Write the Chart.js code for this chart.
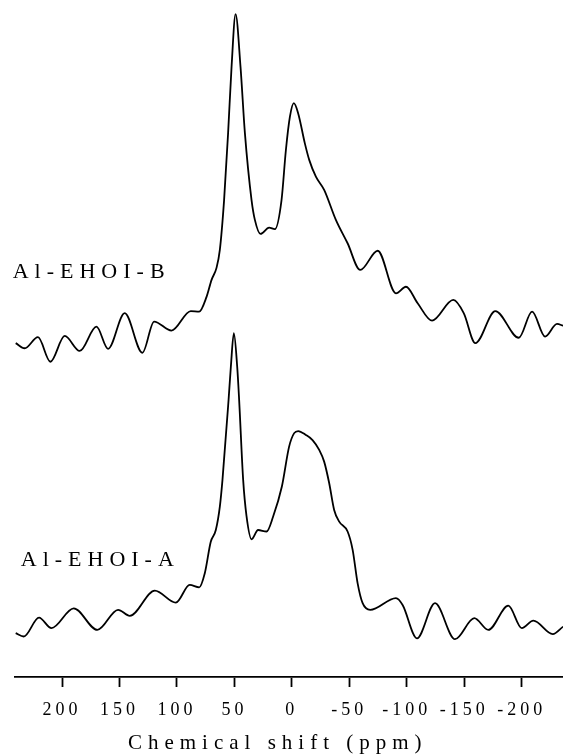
<!DOCTYPE html>
<html>
<head>
<meta charset="utf-8">
<script src="https://cdn.jsdelivr.net/npm/chart.js@4"></script>
<style>
    html, body { margin: 0; padding: 0; background: #fff; }
    canvas { display: block; }
</style>
</head>
<body>
<canvas id="nmr-chart" width="563" height="755"></canvas>
<script>
// 27Al MAS NMR spectra

// Al-EHOI-B (upper trace): chemical shift (ppm) and intensity (a.u.)
const ppmB = [240.4, 232.6, 221.0, 210.2, 197.7, 184.7, 170.1, 160.0, 145.5, 130.1,
    119.9, 104.8, 88.0, 80.7, 74.2, 69.9, 65.6, 62.7, 59.0, 55.5,
    52.5, 49.0, 44.7, 40.9, 35.1, 32.2, 27.3, 19.8, 14.8, 9.0,
    5.2, 1.7, -1.7, -5.5, -11.3, -15.1, -20.9, -28.1, -38.3, -48.5,
    -59.5, -74.7, -90.6, -99.3, -109.5, -122.0, -140.5, -149.6, -159.7, -177.1,
    -197.5, -209.1, -220.4, -230.8, -236.1];
const intB = [0.6, -1.1, 2.6, -5.6, 3.0, -2.0, 6.1, -1.3, 10.6, -2.6,
    7.8, 4.8, 11.3, 11.1, 16.1, 21.7, 25.7, 31.7, 48.3, 70.7,
    92.7, 110.3, 92.7, 70.7, 48.3, 41.7, 37.0, 39.1, 38.6, 48.3,
    65.0, 76.1, 80.6, 77.2, 67.2, 61.7, 56.1, 51.7, 41.7, 33.9,
    25.0, 31.4, 17.2, 19.4, 13.9, 8.1, 15.0, 10.6, 0.6, 11.3,
    2.4, 11.1, 2.8, 7.0, 6.4];

// Al-EHOI-A (lower trace)
const ppmA = [240.4, 233.4, 220.1, 209.3, 189.9, 169.3, 151.3, 141.1, 119.3, 101.0,
    88.9, 80.7, 75.8, 70.6, 66.2, 62.7, 60.4, 55.1, 53.1, 50.5,
    47.6, 45.9, 42.4, 39.5, 35.1, 29.4, 22.0, 16.3, 8.7, 2.4,
    -2.0, -5.5, -12.2, -18.0, -23.8, -28.1, -32.5, -36.8, -41.2, -48.5,
    -52.9, -57.2, -61.6, -68.2, -90.6, -96.4, -108.9, -124.6, -142.0, -158.8,
    -171.0, -188.4, -200.1, -210.2, -227.1, -236.1];
const intA = [-1.1, -2.2, 4.1, 0.6, 7.2, 0.0, 6.7, 4.7, 13.1, 9.1,
    15.0, 14.2, 18.9, 29.4, 33.3, 41.1, 50.0, 76.7, 87.8, 98.9,
    87.8, 76.7, 50.0, 38.0, 30.2, 33.3, 32.8, 37.8, 47.8, 61.1,
    65.6, 66.3, 65.0, 63.3, 60.0, 56.1, 48.9, 40.0, 36.1, 32.8,
    26.7, 15.6, 8.9, 6.7, 10.6, 8.3, -2.8, 8.9, -3.1, 3.9,
    0.0, 8.1, 0.6, 3.1, -1.4, 1.1];

// vertical stacking offset of the upper trace
const offsetB = 95;

const tickValues = [200, 150, 100, 50, 0, -50, -100, -150, -200];
const traceLabels = ['Al-EHOI-B', 'Al-EHOI-A'];
const labelPos = [[243, 22.3 + offsetB], [236, 21.3]];

const serif = '"Liberation Serif", "Times New Roman", serif';

function toPoints(xs, ys, offset) {
    return xs.map((x, i) => ({ x: x, y: ys[i] + offset }));
}

// letter spacing for the spaced-out axis text and the trace labels
const spacingPlugin = {
    id: 'spacing',
    beforeDraw(chart) {
        chart.ctx.letterSpacing = '6px';
    },
    afterDatasetsDraw(chart) {
        const ctx = chart.ctx;
        const xs = chart.scales.x;
        const ys = chart.scales.y;
        ctx.save();
        ctx.font = '22px ' + serif;
        ctx.fillStyle = '#000';
        ctx.textAlign = 'left';
        ctx.textBaseline = 'alphabetic';
        ctx.letterSpacing = '6px';
        traceLabels.forEach((t, i) => {
            ctx.fillText(t, xs.getPixelForValue(labelPos[i][0]), ys.getPixelForValue(labelPos[i][1]));
        });
        ctx.restore();
        // tick labels are drawn after this (ticks.z = 1)
        ctx.letterSpacing = '4px';
    }
};

const ctx = document.getElementById('nmr-chart').getContext('2d');

new Chart(ctx, {
    type: 'line',
    data: {
        datasets: [{
            label: 'Al-EHOI-B',
            data: toPoints(ppmB, intB, offsetB),
            borderColor: '#000',
            borderWidth: 1.8,
            pointRadius: 0,
            cubicInterpolationMode: 'monotone',
            fill: false
        }, {
            label: 'Al-EHOI-A',
            data: toPoints(ppmA, intA, 0),
            borderColor: '#000',
            borderWidth: 1.8,
            pointRadius: 0,
            cubicInterpolationMode: 'monotone',
            fill: false
        }]
    },
    options: {
        responsive: false,
        animation: false,
        layout: {
            padding: { left: 15, right: 0, top: 0, bottom: 1 }
        },
        plugins: {
            legend: { display: false },
            tooltip: { enabled: false }
        },
        scales: {
            x: {
                type: 'linear',
                reverse: true,
                min: -236,
                max: 241,
                border: {
                    display: true,
                    color: '#000',
                    width: 1.8
                },
                grid: {
                    drawOnChartArea: false,
                    drawTicks: true,
                    tickLength: 10,
                    tickWidth: 1.8,
                    tickColor: '#000'
                },
                afterBuildTicks(scale) {
                    scale.ticks = tickValues.map(v => ({ value: v }));
                },
                ticks: {
                    z: 1,
                    padding: 14,
                    color: '#000',
                    maxRotation: 0,
                    autoSkip: false,
                    font: { family: serif, size: 18, lineHeight: 1 },
                    callback: v => String(v)
                },
                title: {
                    display: true,
                    text: 'Chemical shift (ppm)  ',
                    color: '#000',
                    font: { family: serif, size: 21, lineHeight: 1 },
                    padding: { top: 0, bottom: 0 }
                }
            },
            y: {
                display: false,
                min: -15.7,
                max: 210
            }
        }
    },
    plugins: [spacingPlugin]
});
</script>
</body>
</html>
